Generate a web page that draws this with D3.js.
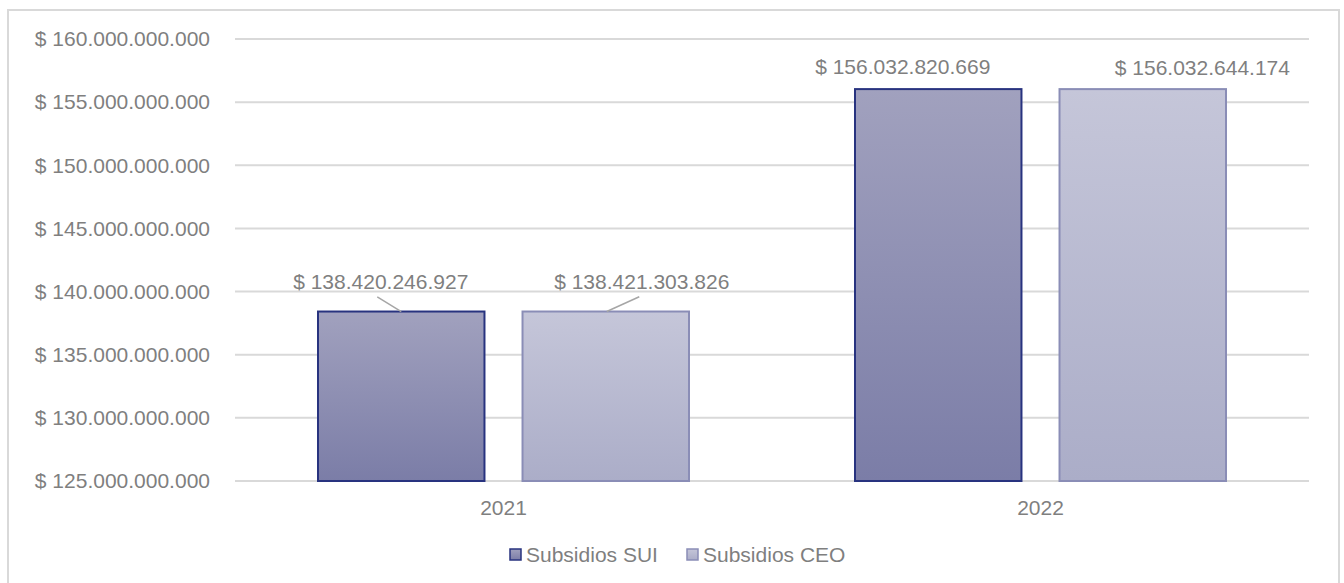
<!DOCTYPE html>
<html>
<head>
<meta charset="utf-8">
<script src="https://cdn.jsdelivr.net/npm/d3@7"></script>
<style>
  html, body { margin: 0; padding: 0; background: #fff; }
  svg { display: block; }
  text { font-family: "Liberation Sans", Arial, sans-serif; fill: #7f7f7f; }
</style>
</head>
<body>
<svg id="chart" width="1344" height="583"></svg>
<script>
// Subsidy totals per year, two sources
const years = ["2021", "2022"];
const seriesNames = ["Subsidios SUI", "Subsidios CEO"];
const subsidiosSUI = [138420246927, 156032820669];
const subsidiosCEO = [138421303826, 156032644174];
const yTicks = [125e9, 130e9, 135e9, 140e9, 145e9, 150e9, 155e9, 160e9];

// Where each value label sits relative to the top-centre of its bar
const labelOffsets = [
  { dx: -20.5, dy: -22.7, leader: true },   // 2021 SUI
  { dx: 36, dy: -22.7, leader: true },      // 2021 CEO
  { dx: -35.5, dy: -15.5, leader: false },  // 2022 SUI
  { dx: 59.6, dy: -13.8, leader: false }    // 2022 CEO
];

const svg = d3.select("#chart");
const W = 1344, H = 583;
const plot = { left: 235, right: 1309, top: 39, bottom: 481 };

// Chart area frame
svg.append("rect")
  .attr("x", 8).attr("y", 10)
  .attr("width", 1331).attr("height", 600)
  .attr("fill", "#fff")
  .attr("stroke", "#d9d9d9").attr("stroke-width", 2);

const defs = svg.append("defs");
function grad(id, top, bottom) {
  const g = defs.append("linearGradient").attr("id", id)
    .attr("x1", 0).attr("y1", 0).attr("x2", 0).attr("y2", 1);
  g.append("stop").attr("offset", "0%").attr("stop-color", top);
  g.append("stop").attr("offset", "100%").attr("stop-color", bottom);
}
grad("gSUI", "#a1a1be", "#7b7da7");
grad("gCEO", "#c5c6d9", "#abadc8");

const fills = ["url(#gSUI)", "url(#gCEO)"];
const strokes = ["#28337f", "#8a8db6"];

const y = d3.scaleLinear().domain([125e9, 160e9]).range([plot.bottom, plot.top]);
const x0 = d3.scaleBand().domain(years).range([plot.left, plot.right]).padding(0);
const x1 = d3.scaleBand().domain(seriesNames)
  .range([83, x0.bandwidth() - 83]).paddingInner(0.186).paddingOuter(0);

const fmt = v => "$ " + d3.format(",.0f")(v).replace(/,/g, ".");

// Gridlines
svg.append("g").selectAll("line").data(yTicks).join("line")
  .attr("x1", plot.left).attr("x2", plot.right)
  .attr("y1", d => y(d)).attr("y2", d => y(d))
  .attr("stroke", "#d9d9d9").attr("stroke-width", 2);

// Y axis labels
const yAxis = d3.axisLeft(y).tickValues(yTicks).tickFormat(fmt).tickSize(0).tickPadding(0);
const gy = svg.append("g").attr("transform", `translate(210,0)`).call(yAxis);
gy.select(".domain").remove();
gy.selectAll("text")
  .attr("font-size", 21)
  .attr("font-family", "Liberation Sans, Arial, sans-serif")
  .attr("fill", "#7f7f7f");

// X axis labels
const xAxis = d3.axisBottom(x0).tickSize(0).tickPadding(0);
const gx = svg.append("g").attr("transform", `translate(0,${plot.bottom})`).call(xAxis);
gx.select(".domain").remove();
gx.selectAll("text")
  .attr("font-size", 21)
  .attr("font-family", "Liberation Sans, Arial, sans-serif")
  .attr("fill", "#7f7f7f")
  .attr("dy", null)
  .attr("y", 34);

// Bars
const rows = [];
years.forEach((yr, i) => {
  [subsidiosSUI[i], subsidiosCEO[i]].forEach((v, s) => {
    rows.push({ year: yr, series: seriesNames[s], s, value: v });
  });
});

svg.append("g").selectAll("rect").data(rows).join("rect")
  .attr("x", d => x0(d.year) + x1(d.series))
  .attr("y", d => y(d.value))
  .attr("width", x1.bandwidth())
  .attr("height", d => y(125e9) - y(d.value))
  .attr("fill", d => fills[d.s])
  .attr("stroke", d => strokes[d.s])
  .attr("stroke-width", 2);

// Value labels with leader lines
const lbl = svg.append("g");
rows.forEach((d, i) => {
  const off = labelOffsets[i];
  const cx = x0(d.year) + x1(d.series) + x1.bandwidth() / 2;
  const top = y(d.value);
  const tx = cx + off.dx, ty = top + off.dy;
  if (off.leader) {
    lbl.append("line")
      .attr("x1", tx + (d.s === 0 ? -3.5 : -2.5)).attr("y1", ty + 8)
      .attr("x2", cx + (d.s === 0 ? 0 : 1)).attr("y2", top)
      .attr("stroke", "#a6a6a6").attr("stroke-width", 1.5);
  }
  lbl.append("text")
    .attr("x", tx).attr("y", ty)
    .attr("text-anchor", "middle")
    .attr("font-size", 21)
    .text(fmt(d.value));
});

// Legend
const legendX = [510, 687];
const lg = svg.append("g");
seriesNames.forEach((name, s) => {
  lg.append("rect")
    .attr("x", legendX[s]).attr("y", 549)
    .attr("width", 11).attr("height", 11)
    .attr("fill", fills[s]).attr("stroke", strokes[s]).attr("stroke-width", 1.5);
  lg.append("text")
    .attr("x", legendX[s] + 16).attr("y", 562)
    .attr("font-size", 21)
    .text(name);
});
</script>
</body>
</html>
